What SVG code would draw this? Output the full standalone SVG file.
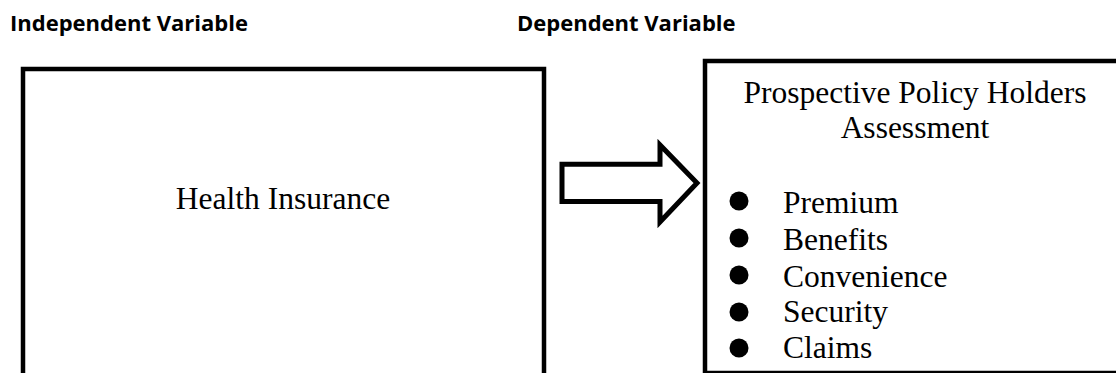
<svg xmlns="http://www.w3.org/2000/svg" width="1116" height="373" viewBox="0 0 1116 373">
  <style>
    .heading { font-family: "Open Sans", "Noto Sans", "DejaVu Sans", sans-serif; font-weight: 700; font-size: 22px; fill: #000; }
    .body { font-family: "Liberation Serif", "Times New Roman", serif; font-size: 31.5px; fill: #000; }
    .frame { fill: #fff; stroke: #000; stroke-width: 4.5; }
    .bullet { fill: #000; }
  </style>
  <rect width="1116" height="373" fill="#fff"/>

  <!-- column headings -->
  <text class="heading" x="10" y="31">Independent Variable</text>
  <text class="heading" x="517" y="31">Dependent Variable</text>

  <!-- independent variable box (runs past the lower edge) -->
  <g id="health-insurance">
    <rect class="frame" x="23" y="69" width="521" height="320"/>
    <text class="body" x="283" y="209" text-anchor="middle">Health Insurance</text>
  </g>

  <!-- connector: block arrow between the boxes -->
  <g id="connectors">
    <path d="M562 164.2 H660 V145 L697 183 L660 222 V201.5 H562 Z" fill="#fff" stroke="#000" stroke-width="5" stroke-linejoin="miter"/>
  </g>

  <!-- dependent variable box (runs past the right edge) -->
  <g id="assessment">
    <rect class="frame" x="705" y="61" width="440" height="312"/>
    <text class="body" x="915" y="103" text-anchor="middle">Prospective Policy Holders</text>
    <text class="body" x="915" y="138" text-anchor="middle">Assessment</text>
    <circle class="bullet" cx="739" cy="201" r="9.5"/>
    <circle class="bullet" cx="739" cy="238" r="9.5"/>
    <circle class="bullet" cx="739" cy="275" r="9.5"/>
    <circle class="bullet" cx="739" cy="312" r="9.5"/>
    <circle class="bullet" cx="739" cy="348" r="9.5"/>
    <text class="body" x="783" y="213">Premium</text>
    <text class="body" x="783" y="250">Benefits</text>
    <text class="body" x="783" y="287">Convenience</text>
    <text class="body" x="783" y="322">Security</text>
    <text class="body" x="783" y="358">Claims</text>
  </g>
</svg>
